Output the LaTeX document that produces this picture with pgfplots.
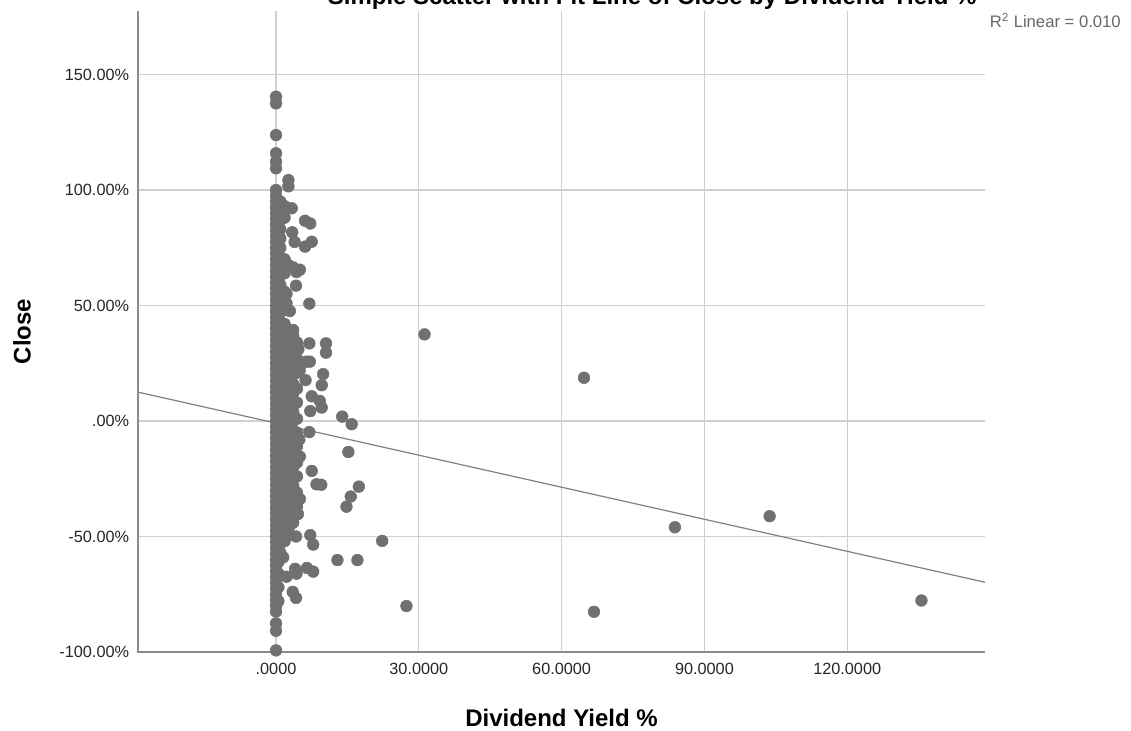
\documentclass[border=0pt]{standalone}
\usepackage{pgfplots}
\pgfplotsset{compat=1.18}
\usepackage{fontspec}
\setmainfont{Liberation Sans}
\definecolor{ptc}{HTML}{707070}
\definecolor{gridc}{HTML}{D0D0D0}
\definecolor{axc}{HTML}{8C8C8C}
\definecolor{linec}{HTML}{808080}
\begin{document}
\begin{tikzpicture}
\begin{axis}[
 at={(0,0)}, anchor=south west, scale only axis,
 width=635.25pt, height=480.75pt,
 xmin=-29, xmax=148.95, ymin=-100, ymax=177.5,
 axis line style={draw=none},
 xtick={0,30,60,90,120}, xticklabels={.0000,30.0000,60.0000,90.0000,120.0000},
 ytick={-100,-50,0,50,100,150},
 yticklabels={-100.00\%,-50.00\%,.00\%,50.00\%,100.00\%,150.00\%},
 major tick length=0pt,
 grid=major, major grid style={draw=gridc, line width=1pt},
 tick label style={font=\fontsize{12.2}{14}\selectfont, text=black!85},
 xticklabel style={anchor=center, yshift=-13pt},
 yticklabel style={anchor=east, inner sep=0pt, xshift=-6.5pt},
 clip=false,
]
\draw[axc, line width=1.2pt] (rel axis cs:0,1) -- (rel axis cs:0,0) -- (rel axis cs:1,0);
\addplot[draw=linec, line width=0.9pt] coordinates {(-29,12.5) (148.95,-69.8)};
\addplot[only marks, mark=*, mark size=4.4pt, mark options={fill=ptc, draw=ptc}] table {
x y
0 140.4
0 137.5
0 123.8
0 115.9
0 112.3
0 109.4
0 100
0 97.5
0 95
0 92.5
0 90
0 87.5
0 85
0 82.5
0 80
0 77.5
0 75
0 72.5
0 70
0 67.5
0 65
0 62.5
0 60
0 57.5
0 55
0 52.5
0 50
0 47.5
0 45
0 42.5
0 40
0 37.5
0 35
0 32.5
0 30
0 27.5
0 25
0 22.5
0 20
0 17.5
0 15
0 12.5
0 10
0 7.5
0 5
0 2.5
0 0
0 -2.5
0 -5
0 -7.5
0 -10
0 -12.5
0 -15
0 -17.5
0 -20
0 -22.5
0 -25
0 -27.5
0 -30
0 -32.5
0 -35
0 -37.5
0 -40
0 -42.5
0 -45
0 -47.5
0 -50
0 -52.5
0 -55
0 -57.5
0 -60
0 -62.5
0 -65
0 -67.5
0 -70
0 -72.5
0 -75
0 -77.5
0 -80
0 -82.5
0 -87.6
0 -90.8
0 -99.3
0.9 95
0.9 91
0.9 87
0.9 83
0.9 79
0.9 75
0.9 71
0.9 67
0.9 63
0.9 59
0.9 55
0.9 51
0.9 47
0.9 43
0.9 39
0.9 35
0.9 31
0.9 27
0.9 23
0.9 19
0.9 15
0.9 11
0.9 7
0.9 3
0.9 -1
0.9 -5
0.9 -9
0.9 -13
0.9 -17
0.9 -21
0.9 -25
0.9 -29
0.9 -33
0.9 -37
0.9 -41
0.9 -45
0.9 -49
0.9 -53
0.9 -57
0.5 -61
0.5 -66
0.5 -72
0.5 -78
1.8 93
1.8 88
1.8 70
1.8 64
1.8 56
1.8 48
1.8 42
1.8 38
1.8 34
1.8 30
1.8 26
1.8 22
1.8 18
1.8 14
1.8 10
1.8 6
1.8 2
1.8 -2
1.8 -6
1.8 -10
1.8 -14
1.8 -18
1.8 -22
1.8 -26
1.8 -30
1.8 -34
1.8 -38
1.8 -42
1.8 -46
1.8 -52
2.7 36
2.7 32.5
2.7 29
2.7 25.5
2.7 22
2.7 18.5
2.7 15
2.7 11.5
2.7 8
2.7 4.5
2.7 1
2.7 -2.5
2.7 -6
2.7 -9.5
2.7 -13
2.7 -16.5
2.7 -20
2.7 -23.5
2.7 -27
2.7 -30.5
2.7 -34
2.7 -37.5
2.7 -41
2.7 -46
3.6 37
3.6 33
3.6 28
3.6 24
3.6 20
3.6 16
3.6 12
3.6 8
3.6 4
3.6 0
3.6 -4
3.6 -8
3.6 -12
3.6 -16
3.6 -20
3.6 -24
3.6 -28
3.6 -32
3.6 -36
3.6 -40
3.6 -44
4.4 34
4.4 27
4.4 21
4.4 14
4.4 8
4.4 1
4.4 -5
4.4 -11
4.4 -18
4.4 -24
4.4 -31
4.4 -37
2.6 104.3
2.6 101.6
3.3 92.1
6.1 86.7
7.2 85.5
3.4 81.7
3.9 77.5
6.1 75.5
7.5 77.6
2.6 67.5
3.6 66.5
5.0 65.5
4.3 64.5
4.2 58.6
2.2 55
7.0 50.8
2.9 47.6
2.2 51
3.6 39.4
7.0 33.6
10.5 33.6
10.5 29.6
4.7 31.1
6.4 25.7
7.1 25.7
9.9 20.3
9.6 15.5
6.2 17.7
5.0 22.1
7.5 10.7
9.2 8.7
7.2 4.3
9.6 5.8
13.9 1.9
15.9 -1.4
7.0 -4.8
4.9 -8
15.2 -13.4
5.0 -15.4
7.5 -21.6
8.5 -27.4
9.5 -27.6
17.4 -28.4
15.7 -32.7
14.8 -37.1
5.0 -33.8
4.6 -40.3
2.2 -43.9
7.2 -49.4
7.8 -53.5
4.2 -50
2.6 -49.5
12.9 -60.2
17.1 -60.2
1.5 -59
4.0 -64
4.3 -66.1
6.5 -63.6
7.8 -65.2
2.2 -67.4
3.5 -74
4.2 -76.6
31.2 37.5
64.7 18.7
22.3 -51.9
27.4 -80.1
66.8 -82.6
83.8 -46.0
103.7 -41.2
135.6 -77.7
};
\node[font=\bfseries\fontsize{18}{20}\selectfont, anchor=center] at (rel axis cs:0.5,-0.103) {Dividend Yield \%};
\node[font=\bfseries\fontsize{18}{20}\selectfont, anchor=center, rotate=90] at (rel axis cs:-0.137,0.5) {Close};
\node[font=\bfseries\fontsize{18}{20}\selectfont, anchor=base] at (rel axis cs:0.607,1.0095) {Simple Scatter with Fit Line of Close by Dividend Yield \%};
\node[font=\fontsize{12.5}{14}\selectfont, text=black!60, anchor=west, inner sep=0pt] at (rel axis cs:1.0055,0.985) {R\textsuperscript{2} Linear = 0.010};
\end{axis}
\pgfresetboundingbox
\path[use as bounding box] (-103.5pt,-59.25pt) rectangle (744.75pt,489pt);
\end{tikzpicture}
\end{document}
